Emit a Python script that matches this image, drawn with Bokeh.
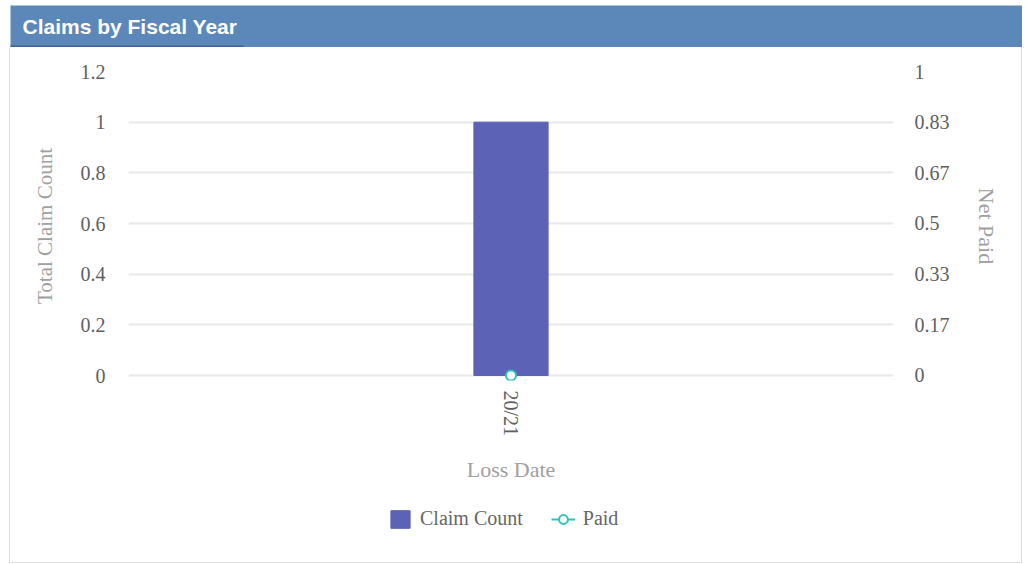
from bokeh.plotting import figure
from bokeh.models import (FactorRange, Range1d, LinearAxis, FixedTicker, Legend, LegendItem,
                          ColumnDataSource)
from bokeh.core.properties import value
from bokeh.embed import file_html
from bokeh.resources import INLINE

# ---- data ----
title_text = "Claims by Fiscal Year"
categories = ["20/21"]
claim_count = [1]
net_paid = [0]
left_ticks = [0, 0.2, 0.4, 0.6, 0.8, 1, 1.2]
right_tick_values = [0, 1/6, 2/6, 3/6, 4/6, 5/6, 1]
right_tick_labels = ["0", "0.17", "0.33", "0.5", "0.67", "0.83", "1"]
series_names = ["Claim Count", "Paid"]
x_title = "Loss Date"
left_title = "Total Claim Count"
right_title = "Net Paid"

SERIF = "Liberation Serif"
HEADER_BG = "#5b87b9"
BAR_COLOR = "#5c62b5"
LINE_COLOR = "#2ec4b6"
BORDER = "#dddddd"

W = 1022
SHADOW = {"box-shadow": f"inset 9px 0 0 #ffffff, inset 10px 0 0 {BORDER}, inset -1px 0 0 {BORDER}"}
SHADOW_B = {"box-shadow": f"inset 9px 0 0 #ffffff, inset 10px 0 0 {BORDER}, inset -1px 0 0 {BORDER}, inset 0 -1px 0 {BORDER}"}

# ---- header ----
hdr = figure(width=W, height=47, x_range=Range1d(0, W), y_range=Range1d(0, 47),
             toolbar_location=None, output_backend="svg", min_border=0,
             x_axis_location=None, y_axis_location=None)
hdr.grid.visible = False
hdr.outline_line_color = None
hdr.background_fill_color = "white"
hdr.border_fill_color = "white"
hdr.quad(left=[10], right=[W], bottom=[0], top=[42], fill_color=HEADER_BG, line_color=None)
hdr.quad(left=[10], right=[243], bottom=[0], top=[2], fill_color="#3d6496", line_color=None)
hdr.text(x=[22], y=[21], text=[title_text], text_color="white",
         text_font=value("Liberation Sans"), text_font_style="bold",
         text_font_size="21px", text_baseline="middle", text_align="left")

# ---- main chart ----
src = ColumnDataSource(dict(cat=categories, count=claim_count, paid=net_paid))

p = figure(width=W, height=443, x_range=FactorRange(*categories, range_padding=0),
           y_range=Range1d(-0.0197, 1.2), toolbar_location=None, output_backend="svg",
           min_border_left=128, min_border_right=129, min_border_top=24,
           min_border_bottom=110)
p.outline_line_color = None
p.background_fill_color = "white"
p.border_fill_alpha = 0
p.styles = SHADOW

p.extra_y_ranges = {"paid": Range1d(-0.01645, 1)}

bars = p.vbar(x="cat", top="count", bottom=0, width=0.097, source=src,
              fill_color=BAR_COLOR, line_color=BAR_COLOR)
ln = p.line(x="cat", y="paid", source=src, y_range_name="paid",
            line_color=LINE_COLOR, line_width=2)
pts = p.scatter(x="cat", y="paid", source=src, y_range_name="paid", size=10,
                fill_color="white", line_color=LINE_COLOR, line_width=2)

def style_axis(ax, label, label_size, label_standoff, tick_standoff):
    ax.axis_label = label
    ax.axis_label_text_font = SERIF
    ax.axis_label_text_font_style = "normal"
    ax.axis_label_text_font_size = label_size
    ax.axis_label_text_color = "#a0a0a0"
    ax.axis_label_standoff = label_standoff
    ax.major_label_text_font = SERIF
    ax.major_label_text_font_size = "20px"
    ax.major_label_text_color = "#606060"
    ax.major_label_standoff = tick_standoff
    ax.axis_line_color = None
    ax.major_tick_line_color = None
    ax.minor_tick_line_color = None

ya = p.yaxis[0]
ya.ticker = FixedTicker(ticks=left_ticks)
style_axis(ya, left_title, "21px", 21, 17)

ra = LinearAxis(y_range_name="paid", ticker=FixedTicker(ticks=right_tick_values),
                major_label_overrides={v: l for v, l in zip(right_tick_values, right_tick_labels)})
style_axis(ra, right_title, "22px", 21, 15)
p.add_layout(ra, "right")

xa = p.xaxis[0]
style_axis(xa, x_title, "22px", 18, 4)
xa.major_label_orientation = "vertical"

p.xgrid.visible = False
p.ygrid[0].ticker = FixedTicker(ticks=left_ticks)
p.ygrid.grid_line_color = "#e8e8e8"
p.ygrid.grid_line_width = 2

# ---- legend strip (same series; its view window sits above the data so only the key shows) ----
lg = figure(width=W, height=73, x_range=FactorRange(*categories), y_range=Range1d(5, 6),
            toolbar_location=None, output_backend="svg", min_border=0,
            x_axis_location=None, y_axis_location=None)
lg.grid.visible = False
lg.outline_line_color = None
lg.background_fill_alpha = 0
lg.border_fill_alpha = 0
lg.styles = SHADOW_B
lb = lg.vbar(x="cat", top="count", bottom=0, width=0.097, source=src,
             fill_color=BAR_COLOR, line_color=BAR_COLOR)
ll = lg.line(x="cat", y="paid", source=src, line_color=LINE_COLOR, line_width=2)
lp = lg.scatter(x="cat", y="paid", source=src, size=10, fill_color="white",
                line_color=LINE_COLOR, line_width=2)
legend = Legend(items=[LegendItem(label=series_names[0], renderers=[lb]),
                       LegendItem(label=series_names[1], renderers=[ll, lp])],
                orientation="horizontal", location=(388, 33),
                label_text_font=SERIF, label_text_font_size="20px",
                label_text_color="#666666", border_line_color=None,
                background_fill_alpha=0, glyph_width=24, glyph_height=22,
                label_standoff=8, spacing=28, margin=0, padding=5)
lg.add_layout(legend, "center")

open("out.html", "w").write(file_html([hdr, p, lg], INLINE))
